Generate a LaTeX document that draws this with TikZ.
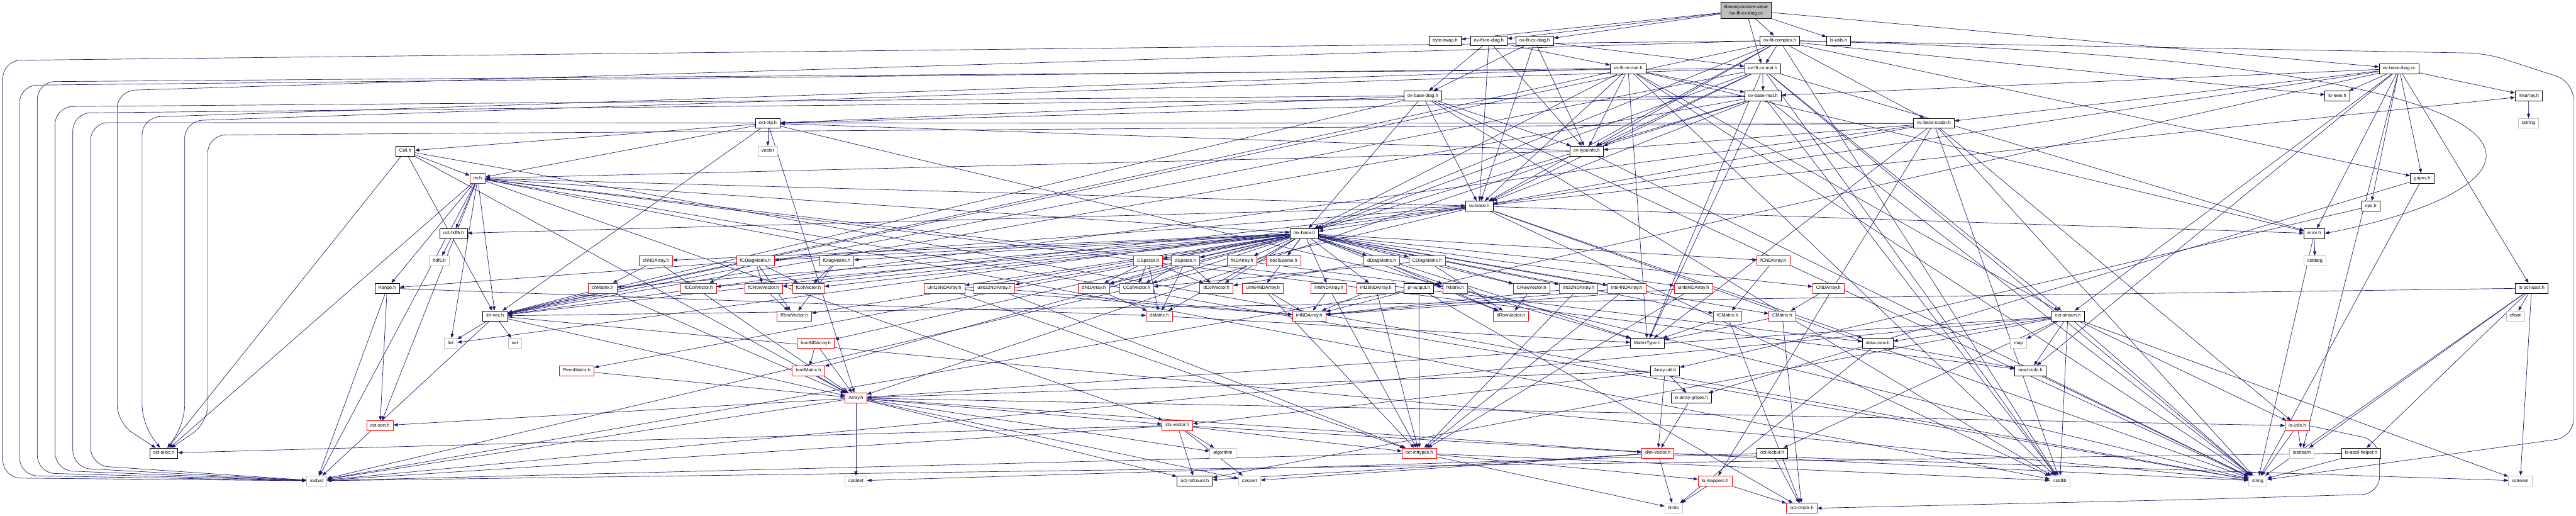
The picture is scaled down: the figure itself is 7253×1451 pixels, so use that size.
\documentclass[tikz,border=0pt]{standalone}
\usepackage{fontspec}
\setmainfont{Liberation Sans}
\usetikzlibrary{arrows.meta,backgrounds}
\definecolor{edgec}{HTML}{191970}
\definecolor{grayb}{HTML}{BFBFBF}
\tikzset{
  box/.style={draw=black, line width=1.4pt, fill=white, minimum height=28pt,
    inner xsep=10pt, inner ysep=0pt, font=\fontsize{13}{15}\selectfont,
    text height=9.5pt, text depth=2.7pt},
  redbox/.style={box, draw=red},
  graybox/.style={box, draw=grayb},
  topbox/.style={draw=black, line width=1.4pt, fill=grayb, align=center,
    minimum height=46pt, inner xsep=10pt, inner ysep=3pt,
    font=\fontsize{13}{17}\selectfont},
  dep/.style={draw=edgec, line width=1.2pt, -{Triangle[length=12pt,width=9pt]}},
  loopdep/.style={dep, rounded corners=50pt},
}
\begin{document}
\begin{tikzpicture}[x=1pt,y=-1pt]
\useasboundingbox (0,0) rectangle (7253,1451);
% ---------------- nodes ----------------
\node[topbox] (src) at (4916,29) {libinterp/octave-value\\/ov-flt-cx-diag.cc};
\node[box] (bswap) at (4069,115) {byte-swap.h};
\node[box] (frediag) at (4192,115) {ov-flt-re-diag.h};
\node[box] (fcxdiag) at (4321,115) {ov-flt-cx-diag.h};
\node[box] (fcomplex) at (5011,115) {ov-flt-complex.h};
\node[box] (lsutils) at (5177,115) {ls-utils.h};
\node[box] (fremat) at (4584,193) {ov-flt-re-mat.h};
\node[box] (fcxmat) at (4963,193) {ov-flt-cx-mat.h};
\node[box] (bdiagcc) at (6755,193) {ov-base-diag.cc};
\node[box] (bdiag) at (4006,270) {ov-base-diag.h};
\node[box] (bmat) at (4964,270) {ov-base-mat.h};
\node[box] (loieee) at (6581,270) {lo-ieee.h};
\node[box] (mxarray) at (7120,270) {mxarray.h};
\node[box] (octobj) at (2162,347) {oct-obj.h};
\node[box] (bscalar) at (5445,347) {ov-base-scalar.h};
\node[graybox] (cstring) at (7119,347) {cstring};
\node[box] (cell) at (1141,425) {Cell.h};
\node[graybox] (vector) at (2162,425) {vector};
\node[box] (typeinfo) at (4467,425) {ov-typeinfo.h};
\node[redbox] (ov) at (1345,502) {ov.h};
\node[box] (gripes) at (6820,502) {gripes.h};
\node[box] (ovbase) at (4165,580) {ov-base.h};
\node[box] (ops) at (6675,580) {ops.h};
\node[box] (hdf5w) at (1277,657) {oct-hdf5.h};
\node[box] (mxbase) at (3672,657) {mx-base.h};
\node[box] (error) at (6516,657) {error.h};
% row 734
\node[graybox] (hdf5) at (1237,734) {hdf5.h};
\node[redbox] (chnd) at (1847,734) {chNDArray.h};
\node[redbox] (fcdm) at (2127,734) {fCDiagMatrix.h};
\node[redbox] (fdm) at (2356,734) {fDiagMatrix.h};
\node[redbox] (csp) at (3233,734) {CSparse.h};
\node[redbox] (dsp) at (3338,734) {dSparse.h};
\node[redbox] (fnd) at (3497,734) {fNDArray.h};
\node[redbox] (bsp) at (3614,734) {boolSparse.h};
\node[redbox] (ddm) at (3890,734) {dDiagMatrix.h};
\node[redbox] (cdm) at (4018,734) {CDiagMatrix.h};
\node[redbox] (fcnd) at (4993,734) {fCNDArray.h};
\node[graybox] (cstdarg) at (6518,734) {cstdarg};
% row 811
\node[box] (range) at (1090,811) {Range.h};
\node[redbox] (chm) at (1697,811) {chMatrix.h};
\node[redbox] (fccv) at (1967,811) {fCColVector.h};
\node[redbox] (fcrv) at (2150,811) {fCRowVector.h};
\node[redbox] (fcv) at (2276,811) {fColVector.h};
\node[redbox] (u16) at (2659,811) {uint16NDArray.h};
\node[redbox] (u32) at (2800,811) {uint32NDArray.h};
\node[redbox] (dnd) at (3080,811) {dNDArray.h};
\node[redbox] (ccv) at (3200,811) {CColVector.h};
\node[redbox] (dcv) at (3425,811) {dColVector.h};
\node[redbox] (u64) at (3556,811) {uint64NDArray.h};
\node[redbox] (i8) at (3742,811) {int8NDArray.h};
\node[redbox] (i16) at (3874,811) {int16NDArray.h};
\node[box] (prout) at (3995,811) {pr-output.h};
\node[redbox] (fm) at (4097,811) {fMatrix.h};
\node[redbox] (crv) at (4312,811) {CRowVector.h};
\node[redbox] (i32) at (4445,811) {int32NDArray.h};
\node[redbox] (i64) at (4580,811) {int64NDArray.h};
\node[redbox] (u8) at (4768,811) {uint8NDArray.h};
\node[redbox] (cnd) at (5148,811) {CNDArray.h};
\node[box] (lsascii) at (7128,811) {ls-oct-ascii.h};
% row 889
\node[box] (strvec) at (1394,889) {str-vec.h};
\node[redbox] (frv) at (2236,889) {fRowVector.h};
\node[redbox] (dm) at (3264,889) {dMatrix.h};
\node[redbox] (intnd) at (3686,889) {intNDArray.h};
\node[redbox] (drv) at (4254,889) {dRowVector.h};
\node[redbox] (fcm) at (4864,889) {fCMatrix.h};
\node[redbox] (cm) at (5018,889) {CMatrix.h};
\node[box] (ostream) at (5822,889) {oct-stream.h};
\node[graybox] (cfloat) at (7082,889) {cfloat};
% row 966
\node[graybox] (list) at (1269,966) {list};
\node[graybox] (set) at (1450,966) {set};
\node[redbox] (bnd) at (2297,966) {boolNDArray.h};
\node[box] (mtype) at (4638,966) {MatrixType.h};
\node[box] (dconv) at (5287,966) {data-conv.h};
\node[graybox] (map) at (5683,966) {map};
% row 1043
\node[redbox] (perm) at (1624,1043) {PermMatrix.h};
\node[redbox] (bm) at (2276,1043) {boolMatrix.h};
\node[box] (autil) at (4688,1043) {Array-util.h};
\node[box] (machinfo) at (5717,1043) {mach-info.h};
% row 1120
\node[redbox] (array) at (2410,1120) {Array.h};
\node[box] (lag) at (4762,1120) {lo-array-gripes.h};
% row 1198
\node[redbox] (osort) at (1070,1198) {oct-sort.h};
\node[redbox] (idx) at (3315,1197) {idx-vector.h};
\node[redbox] (loutils) at (6468,1198) {lo-utils.h};
% row 1275
\node[box] (alloc) at (461,1275) {oct-alloc.h};
\node[graybox] (algorithm) at (3443,1275) {algorithm};
\node[redbox] (inttypes) at (3996,1275) {oct-inttypes.h};
\node[redbox] (dimv) at (4668,1275) {dim-vector.h};
\node[box] (locbuf) at (4990,1275) {oct-locbuf.h};
\node[graybox] (iostream) at (6481,1275) {iostream};
\node[box] (lsah) at (6648,1275) {ls-ascii-helper.h};
% row 1353
\node[graybox] (iosfwd) at (892,1353) {iosfwd};
\node[graybox] (cstddef) at (2410,1353) {cstddef};
\node[box] (refcount) at (3364,1353) {oct-refcount.h};
\node[graybox] (cassert) at (3518,1353) {cassert};
\node[redbox] (lomap) at (4829,1353) {lo-mappers.h};
\node[graybox] (cstdlib) at (5800,1353) {cstdlib};
\node[graybox] (string) at (6357,1353) {string};
\node[graybox] (sstream) at (7096,1353) {sstream};
% row 1430
\node[graybox] (limits) at (4712,1430) {limits};
\node[redbox] (cmplx) at (5073,1430) {oct-cmplx.h};
% ---------------- edges ----------------
\begin{pgfonlayer}{background}
\fill[white] (0,0) rectangle (7253,1451);
\foreach \s/\t in {
 src/bswap, src/frediag, src/fcxdiag, src/fcomplex, src/fcxmat, src/lsutils, src/bdiagcc,
 frediag/ovbase, frediag/bdiag, frediag/fremat, frediag/typeinfo,
 fcxdiag/ovbase, fcxdiag/bdiag, fcxdiag/fcxmat, fcxdiag/typeinfo,
 fcomplex/loieee, fcomplex/mxbase, fcomplex/gripes, fcomplex/ovbase,
 fcomplex/fcxmat, fcomplex/bscalar, fcomplex/typeinfo, fcomplex/cstdlib, fcomplex/strvec,
 fremat/mxbase, fremat/strvec, fremat/error, fremat/ostream, fremat/ovbase, fremat/bmat,
 fremat/typeinfo, fremat/mtype, fremat/cstdlib, fremat/string,
 fcxmat/mxbase, fcxmat/strvec, fcxmat/error, fcxmat/ostream, fcxmat/ovbase, fcxmat/bmat,
 fcxmat/typeinfo, fcxmat/mtype, fcxmat/cstdlib, fcxmat/string,
 bdiagcc/iostream, bdiagcc/machinfo, bdiagcc/loieee, bdiagcc/mxarray, bdiagcc/ovbase, bdiagcc/bmat,
 bdiagcc/bscalar, bdiagcc/prout, bdiagcc/error, bdiagcc/gripes, bdiagcc/ostream, bdiagcc/ops, bdiagcc/lsascii,
 bdiag/mxbase, bdiag/strvec, bdiag/octobj, bdiag/ovbase, bdiag/typeinfo, bdiag/cstdlib, bdiag/string,
 bmat/mxbase, bmat/strvec, bmat/mtype, bmat/octobj, bmat/ovbase, bmat/typeinfo, bmat/cstdlib, bmat/string,
 bscalar/lomap, bscalar/loutils, bscalar/mtype, bscalar/ovbase, bscalar/typeinfo, bscalar/strvec,
 bscalar/cstdlib, bscalar/string,
 octobj/vector, octobj/ov, octobj/cell, octobj/array, octobj/strvec, octobj/string,
 cell/ov, cell/array, cell/strvec, cell/string, cell/alloc,
 typeinfo/string, typeinfo/array, typeinfo/octobj, typeinfo/ov,
 ov/range, ov/dconv, ov/idx, ov/machinfo, ov/mxbase, ov/strvec, ov/hdf5w, ov/osort, ov/ovbase,
 ov/list, ov/cstdlib, ov/string, ov/alloc, ov/iosfwd,
 ovbase/range, ovbase/dconv, ovbase/mxarray, ovbase/mxbase, ovbase/strvec, ovbase/error,
 ovbase/hdf5w, ovbase/list, ovbase/cstdlib, ovbase/string, ovbase/iosfwd,
 hdf5w/hdf5,
 range/iosfwd, range/dm, range/osort,
 strvec/iosfwd, strvec/list, strvec/set, strvec/string, strvec/array,
 chnd/chm, chnd/array, chm/array, chm/strvec,
 fcdm/fccv, fcdm/fcrv, fcdm/fcv, fcdm/frv, fdm/fcv, fdm/frv, fcrv/frv,
 bnd/bm, bnd/array, bm/array, perm/array,
 csp/dnd, csp/ccv, csp/dcv, csp/dm, dsp/dnd, dsp/ccv, dsp/dcv, dsp/dm, dnd/dm,
 ddm/drv, ddm/dcv, cdm/crv, cdm/drv, cdm/ccv, fnd/fm,
 i8/intnd, i8/inttypes, i16/intnd, i16/inttypes, i32/intnd, i32/inttypes, i64/intnd, i64/inttypes,
 u8/intnd, u8/inttypes, u16/intnd, u16/inttypes, u32/intnd, u32/inttypes, u64/intnd, u64/inttypes,
 prout/intnd, prout/inttypes, prout/iosfwd, prout/cmplx,
 fm/mtype, crv/drv, cm/cmplx, cm/mtype, fcm/cmplx, fcm/mtype, cnd/cm, fcnd/fcm, dm/mtype,
 array/cassert, array/cstddef, array/algorithm, array/iosfwd, array/dimv, array/idx,
 array/loutils, array/osort, array/refcount,
 idx/cassert, idx/algorithm, idx/iosfwd, idx/dimv, idx/inttypes, idx/alloc, idx/refcount,
 autil/array, autil/dimv, autil/idx, autil/lag, lag/dimv,
 dimv/cassert, dimv/limits, dimv/sstream, dimv/string, dimv/refcount,
 inttypes/cstdlib, inttypes/limits, inttypes/iosfwd, inttypes/lomap,
 lomap/limits, lomap/cmplx, locbuf/cstddef, locbuf/cmplx,
 ostream/map, ostream/machinfo, ostream/dconv, ostream/cstdlib, ostream/string, ostream/sstream,
 ostream/iosfwd, ostream/array, ostream/loutils, ostream/refcount, ostream/locbuf,
 dconv/machinfo, dconv/limits, machinfo/string, error/cstdarg, error/string,
 gripes/lag, gripes/string, ops/autil, mxarray/cstring,
 lsascii/cfloat, lsascii/sstream, lsascii/string, lsascii/strvec, lsascii/iostream, lsascii/lsah,
 lsah/iosfwd, lsah/string, loutils/iostream, loutils/string}
 \draw[dep] (\s) -- (\t);
\foreach \t in {mtype,bm,bnd,chm,chnd,dcv,drv,dm,dnd,ccv,crv,cm,cnd,fcv,frv,fm,fnd,fccv,fcrv,
  fcm,fcnd,i8,i16,i32,i64,u8,u16,u32,u64,bsp,dsp,csp,ddm,cdm,fdm,fcdm,perm}
 \draw[dep] (mxbase) -- (\t);
% long edges routed round the left side
\foreach \s/\X/\Y/\B in {fcomplex/8/170/1345, fremat/55/240/1338, fcxmat/105/230/1331,
  bdiag/155/300/1324, bmat/205/318/1317, bscalar/255/345/1310}
 \draw[loopdep] (\s.west) -- (\X,\Y) -- (\X,\B) -- (iosfwd);
\foreach \s/\X/\Y in {fcomplex/330/255, fremat/400/330, fcxmat/520/340, bscalar/585/380}
 \draw[loopdep] (\s.west) -- (\X,\Y) -- (\X,1190) -- (alloc);
% long edges routed round the right side
\draw[loopdep] (fcomplex.east) -- (7000,150) -- (7246,230) -- (7246,1230) -- (string);
\draw[dep] (fcomplex.east) .. controls (7380,170) and (7250,520) .. (error.east);
\draw[loopdep] (loutils.east) -- (6700,1240) -- (6700,1390) -- (6200,1405) -- (cmplx.east);
\end{pgfonlayer}
\end{tikzpicture}
\end{document}
